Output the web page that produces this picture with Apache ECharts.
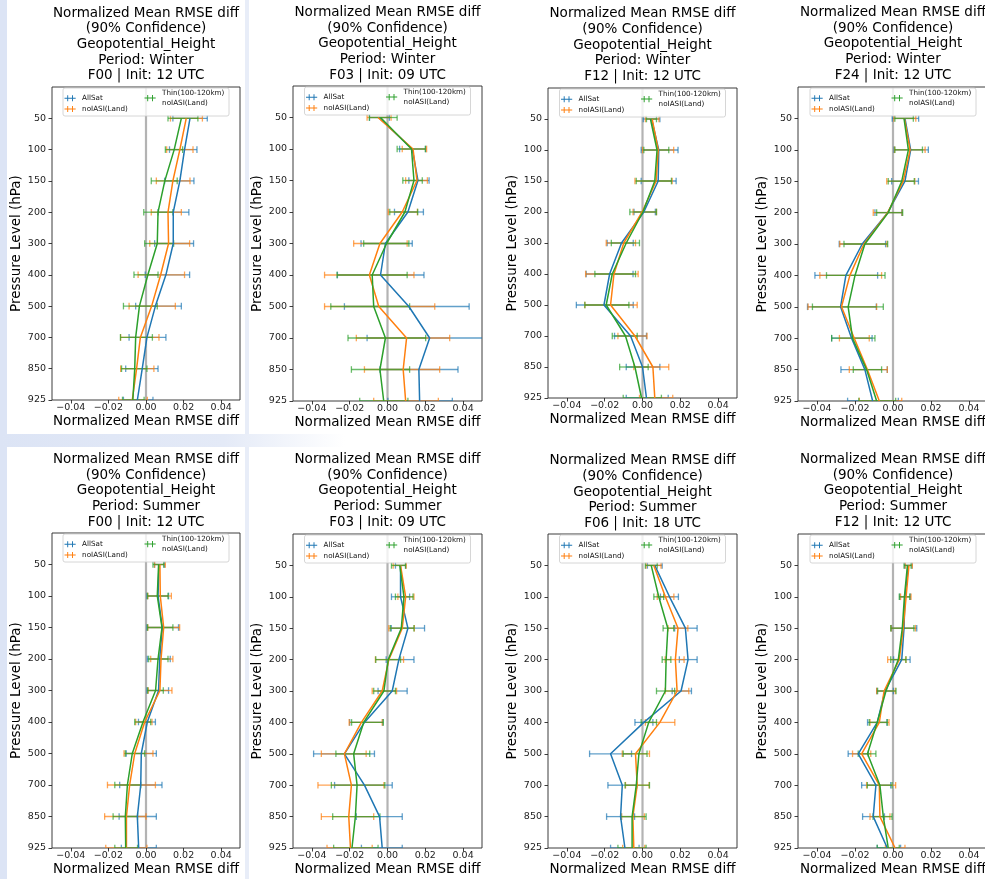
<!DOCTYPE html>
<html><head><meta charset="utf-8">
<script src="https://cdn.jsdelivr.net/npm/echarts@6/dist/echarts.min.js"></script>
<style>html,body{margin:0;padding:0;background:#fff}#c{width:985px;height:879px}</style>
</head><body><div id="c"></div>
<script>
// ---------- data ----------
const levels = ['50','100','150','200','300','400','500','700','850','925'];
const xTicks = [-0.04, -0.02, 0, 0.02, 0.04];
const zeroLine = [0];
const seriesNames = ['AllSat', 'noIASI(Land)', 'Thin(100-120km)\nnoIASI(Land)'];
const titles = [
  'Normalized Mean RMSE diff\n(90% Confidence)\nGeopotential_Height\nPeriod: Winter\nF00 | Init: 12 UTC',
  'Normalized Mean RMSE diff\n(90% Confidence)\nGeopotential_Height\nPeriod: Winter\nF03 | Init: 09 UTC',
  'Normalized Mean RMSE diff\n(90% Confidence)\nGeopotential_Height\nPeriod: Winter\nF12 | Init: 12 UTC',
  'Normalized Mean RMSE diff\n(90% Confidence)\nGeopotential_Height\nPeriod: Winter\nF24 | Init: 12 UTC',
  'Normalized Mean RMSE diff\n(90% Confidence)\nGeopotential_Height\nPeriod: Summer\nF00 | Init: 12 UTC',
  'Normalized Mean RMSE diff\n(90% Confidence)\nGeopotential_Height\nPeriod: Summer\nF03 | Init: 09 UTC',
  'Normalized Mean RMSE diff\n(90% Confidence)\nGeopotential_Height\nPeriod: Summer\nF06 | Init: 18 UTC',
  'Normalized Mean RMSE diff\n(90% Confidence)\nGeopotential_Height\nPeriod: Summer\nF12 | Init: 12 UTC'
];

// Winter F00
const w00_allsat = [0.0234, 0.0205, 0.018, 0.0145, 0.0145, 0.0106, 0.005, 0.0005, -0.002, -0.0046];
const w00_allsat_ci = [[0.0143,0.0326],[0.0125,0.0271],[0.0099,0.0255],[0.0064,0.0228],[0.0046,0.0253],[-0.0004,0.0232],[-0.0055,0.0188],[-0.009,0.0106],[-0.0108,0.0064],[-0.012,0.0037]];
const w00_noiasi = [0.0214, 0.018, 0.0143, 0.0117, 0.012, 0.0078, 0.003, -0.003, -0.005, -0.0073];
const w00_noiasi_ci = [[0.013,0.030],[0.011,0.025],[0.0055,0.0234],[0.0028,0.0188],[0.002,0.0232],[-0.0042,0.0205],[-0.009,0.0156],[-0.0135,0.0069],[-0.0135,0.0042],[-0.0145,0.0007]];
const w00_thin = [0.0188, 0.015, 0.01, 0.0064, 0.006, 0.001, -0.0035, -0.0055, -0.006, -0.007];
const w00_thin_ci = [[0.0117,0.0276],[0.0103,0.0195],[0.0028,0.0166],[-0.0012,0.0143],[-0.0007,0.0147],[-0.0064,0.0064],[-0.012,0.006],[-0.0136,0.0034],[-0.013,0.0005],[-0.0125,-0.001]];

// Winter F03
const w03_allsat = [-0.0046, 0.0131, 0.0161, 0.0108, -0.0011, -0.0037, 0.0113, 0.0223, 0.0166, 0.017];
const w03_allsat_ci = [[-0.0095,0.001],[0.0064,0.0202],[0.0113,0.022],[0.0037,0.019],[-0.014,0.0131],[-0.0265,0.0193],[-0.0228,0.0432],[-0.0108,0.055],[-0.004,0.0373],[0.0002,0.0343]];
const w03_noiasi = [-0.005, 0.0135, 0.0156, 0.0078, -0.004, -0.0096, -0.0046, 0.0101, 0.0083, 0.0096];
const w03_noiasi_ci = [[-0.0108,0.0019],[0.0078,0.0207],[0.0096,0.0211],[0.0004,0.0158],[-0.0179,0.0104],[-0.0333,0.014],[-0.0333,0.025],[-0.0165,0.0329],[-0.0122,0.0276],[-0.0073,0.0269]];
const w03_thin = [-0.0037, 0.0127, 0.014, 0.0092, -0.0005, -0.0081, -0.0073, -0.0011, -0.004, -0.002];
const w03_thin_ci = [[-0.0096,0.0051],[0.0051,0.02],[0.0081,0.0184],[0.0012,0.016],[-0.0126,0.0113],[-0.0267,0.0104],[-0.03,0.0117],[-0.0209,0.0202],[-0.0191,0.0117],[-0.0147,0.0108]];

// Winter F12
const w12_allsat = [0.0048, 0.0086, 0.0083, 0.0007, -0.0111, -0.0174, -0.0204, -0.0063, 0.0, 0.0021];
const w12_allsat_ci = [[0.0004,0.0092],[-0.0007,0.0188],[-0.0007,0.0178],[-0.0045,0.0068],[-0.0187,-0.0049],[-0.0298,-0.005],[-0.035,-0.0049],[-0.0148,0.0021],[-0.0086,0.0092],[-0.0086,0.0136]];
const w12_noiasi = [0.0051, 0.0083, 0.0072, -0.0002, -0.0099, -0.0151, -0.0169, -0.004, 0.0055, 0.0065];
const w12_noiasi_ci = [[0.0015,0.0087],[0.0,0.0165],[-0.004,0.0157],[-0.005,0.0074],[-0.0192,-0.0037],[-0.0301,-0.0023],[-0.0305,-0.0028],[-0.013,0.0024],[-0.0046,0.0139],[-0.0016,0.016]];
const w12_thin = [0.0042, 0.0077, 0.0065, 0.0002, -0.0086, -0.016, -0.0192, -0.009, -0.004, -0.0005];
const w12_thin_ci = [[0.0021,0.0074],[0.0007,0.0139],[-0.0033,0.0153],[-0.0067,0.0074],[-0.0165,-0.0016],[-0.0252,-0.0037],[-0.0305,-0.0072],[-0.016,-0.0028],[-0.0121,0.003],[-0.0102,0.01]];

// Winter F24
const w24_allsat = [0.0063, 0.0093, 0.0063, -0.0028, -0.0162, -0.0248, -0.0276, -0.0218, -0.0148, -0.0107];
const w24_allsat_ci = [[-0.0004,0.0135],[0.0005,0.0186],[-0.0007,0.0134],[-0.0095,0.0046],[-0.0283,-0.0039],[-0.0411,-0.0081],[-0.045,-0.0088],[-0.0323,-0.011],[-0.0274,-0.003],[-0.0239,0.0028]];
const w24_noiasi = [0.006, 0.009, 0.0054, -0.0028, -0.0153, -0.0227, -0.0271, -0.0204, -0.0135, -0.0072];
const w24_noiasi_ci = [[0.0005,0.012],[0.0008,0.0169],[-0.0033,0.0115],[-0.0104,0.0048],[-0.028,-0.0032],[-0.0385,-0.006],[-0.0447,-0.0086],[-0.0282,-0.0125],[-0.023,-0.003],[-0.0177,0.0046]];
const w24_thin = [0.0058, 0.0081, 0.0046, -0.0025, -0.0148, -0.02, -0.0236, -0.0213, -0.0139, -0.0086];
const w24_thin_ci = [[0.001,0.0107],[0.001,0.0155],[-0.0025,0.0112],[-0.0086,0.0051],[-0.0258,-0.0028],[-0.035,-0.0042],[-0.0424,-0.0051],[-0.0323,-0.0095],[-0.0209,-0.006],[-0.018,0.0014]];

// Summer F00
const s00_allsat = [0.0069, 0.0064, 0.0087, 0.0073, 0.0067, 0.0007, -0.0025, -0.0028, -0.0046, -0.0039];
const s00_allsat_ci = [[0.0045,0.0098],[0.0005,0.012],[0.0005,0.0173],[0.0007,0.0129],[0.0005,0.012],[-0.004,0.005],[-0.0105,0.0055],[-0.014,0.0085],[-0.0143,0.0055],[-0.0131,0.0055]];
const s00_noiasi = [0.0074, 0.0076, 0.0094, 0.008, 0.0074, -0.0007, -0.006, -0.0087, -0.0104, -0.0104];
const s00_noiasi_ci = [[0.0046,0.0103],[0.001,0.0135],[0.001,0.0179],[0.0025,0.0143],[0.0012,0.0138],[-0.0055,0.0032],[-0.0117,0.0037],[-0.0205,0.005],[-0.022,0.0],[-0.0214,0.0005]];
const s00_thin = [0.0067, 0.006, 0.0085, 0.0064, 0.0051, -0.0016, -0.0073, -0.0099, -0.011, -0.0108];
const s00_thin_ci = [[0.0037,0.0094],[0.0008,0.0117],[0.0008,0.0143],[0.0014,0.0117],[0.0009,0.0092],[-0.006,0.0025],[-0.011,-0.0007],[-0.0166,-0.0028],[-0.0175,-0.0045],[-0.0166,-0.0045]];

// Summer F03
const s03_allsat = [0.0069, 0.0069, 0.0108, 0.006, 0.0025, -0.0122, -0.0228, -0.0122, -0.0042, -0.0028];
const s03_allsat_ci = [[0.0042,0.0096],[0.0021,0.0117],[0.002,0.0196],[-0.0007,0.014],[-0.005,0.0104],[-0.02,-0.0025],[-0.0391,-0.0069],[-0.028,0.0025],[-0.0165,0.0078],[-0.0138,0.0078]];
const s03_noiasi = [0.0069, 0.0096, 0.0078, 0.0007, -0.0028, -0.0138, -0.0228, -0.0191, -0.0205, -0.0196];
const s03_noiasi_ci = [[0.003,0.0099],[0.0055,0.014],[0.0007,0.0142],[-0.0064,0.0085],[-0.0081,0.0048],[-0.0203,-0.0028],[-0.035,-0.0113],[-0.0368,-0.0019],[-0.035,-0.0073],[-0.032,-0.0081]];
const s03_thin = [0.0065, 0.0087, 0.0073, 0.0004, -0.0019, -0.0126, -0.0179, -0.0161, -0.017, -0.0188];
const s03_thin_ci = [[0.0021,0.0095],[0.0042,0.0135],[0.0015,0.014],[-0.0062,0.0069],[-0.0073,0.0042],[-0.019,-0.0022],[-0.0273,-0.0094],[-0.0297,-0.0014],[-0.029,-0.004],[-0.0285,-0.005]];

// Summer F06
const s06_allsat = [0.0065, 0.0143, 0.0227, 0.0241, 0.0204, 0.0007, -0.0169, -0.0107, -0.0116, -0.0093];
const s06_allsat_ci = [[0.0026,0.0104],[0.0095,0.019],[0.017,0.0289],[0.0195,0.0289],[0.0157,0.0259],[-0.004,0.0055],[-0.028,-0.0058],[-0.0183,-0.003],[-0.019,-0.0042],[-0.0169,-0.0018]];
const s06_noiasi = [0.006, 0.0121, 0.0188, 0.0174, 0.0183, 0.0092, -0.0037, -0.0028, -0.0051, -0.0046];
const s06_noiasi_ci = [[0.0019,0.0098],[0.0078,0.0166],[0.0135,0.024],[0.012,0.022],[0.012,0.0245],[0.0015,0.0171],[-0.0107,0.0037],[-0.009,0.0035],[-0.011,0.001],[-0.0105,0.0012]];
const s06_thin = [0.0046, 0.0086, 0.0134, 0.0125, 0.0121, 0.0033, -0.0019, -0.0033, -0.0055, -0.0055];
const s06_thin_ci = [[0.0015,0.0078],[0.006,0.0112],[0.0109,0.0165],[0.0104,0.015],[0.0074,0.017],[-0.0007,0.0074],[-0.0102,0.0024],[-0.0092,0.0037],[-0.0115,0.0019],[-0.013,0.0019]];

// Summer F12
const s12_allsat = [0.0081, 0.0063, 0.0058, 0.0046, -0.0042, -0.0083, -0.0183, -0.009, -0.0104, -0.003];
const s12_allsat_ci = [[0.0062,0.01],[0.0036,0.0091],[-0.0008,0.0125],[0.0003,0.009],[-0.0086,0.0002],[-0.0134,-0.0032],[-0.0236,-0.013],[-0.0165,-0.0012],[-0.016,-0.0045],[-0.0083,0.004]];
const s12_noiasi = [0.0084, 0.0069, 0.0054, 0.0033, -0.0047, -0.0072, -0.0165, -0.0072, -0.0069, 0.0011];
const s12_noiasi_ci = [[0.0065,0.0102],[0.004,0.0095],[-0.001,0.0118],[-0.0028,0.0068],[-0.0086,0.0012],[-0.0121,-0.0021],[-0.0213,-0.0117],[-0.0139,0.0014],[-0.0121,-0.0016],[-0.004,0.0063]];
const s12_thin = [0.0076, 0.006, 0.0049, 0.0028, -0.0037, -0.0083, -0.0134, -0.0069, -0.0051, -0.0025];
const s12_thin_ci = [[0.0058,0.0095],[0.0033,0.0088],[-0.0012,0.011],[-0.0012,0.0068],[-0.0081,0.0016],[-0.0125,-0.003],[-0.0183,-0.009],[-0.0135,-0.0005],[-0.0105,-0.0005],[-0.0083,0.0033]];

// ---------- layout / style ----------
const panels = [
  [[w00_allsat, w00_allsat_ci], [w00_noiasi, w00_noiasi_ci], [w00_thin, w00_thin_ci]],
  [[w03_allsat, w03_allsat_ci], [w03_noiasi, w03_noiasi_ci], [w03_thin, w03_thin_ci]],
  [[w12_allsat, w12_allsat_ci], [w12_noiasi, w12_noiasi_ci], [w12_thin, w12_thin_ci]],
  [[w24_allsat, w24_allsat_ci], [w24_noiasi, w24_noiasi_ci], [w24_thin, w24_thin_ci]],
  [[s00_allsat, s00_allsat_ci], [s00_noiasi, s00_noiasi_ci], [s00_thin, s00_thin_ci]],
  [[s03_allsat, s03_allsat_ci], [s03_noiasi, s03_noiasi_ci], [s03_thin, s03_thin_ci]],
  [[s06_allsat, s06_allsat_ci], [s06_noiasi, s06_noiasi_ci], [s06_thin, s06_thin_ci]],
  [[s12_allsat, s12_allsat_ci], [s12_noiasi, s12_noiasi_ci], [s12_thin, s12_thin_ci]]
];
const boxes = [[52,87,188,313],[293,86,189,315],[548,88,189,310],[798,87,190,314],
               [52,533,188,315],[293,534,189,314],[548,534,189,314],[798,534,190,314]];
const titleTops = [5.2, 4.5, 6, 4.5, 451.5, 451.5, 452.8, 451.5];
const colors = ['#1f77b4', '#ff7f0e', '#2ca02c'];
const FONT = 'DejaVu Sans';
const nLev = levels.length;
const yTickVals = levels.map((_, i) => i);
// errorbar-style legend handle: horizontal line with two vertical caps
const legendIcon = 'path://M0,4.35H14V5.65H0Z M3.4,1.2H4.6V8.8H3.4Z M9.4,1.2H10.6V8.8H9.4Z M0,0H0.01V10H0Z';

function fmtX(v) {
  const r = Math.round(v * 100);
  if (r % 2 !== 0) return '';
  const s = Math.abs(v).toFixed(2);
  return v < -1e-9 ? '\u2212' + s : s;
}

const option = {
  animation: false,
  backgroundColor: '#ffffff',
  textStyle: { fontFamily: FONT },
  title: [], grid: [], xAxis: [], yAxis: [], legend: [], series: [],
  graphic: [
    { type: 'rect', z: 0, silent: true, shape: { x: 0, y: 0, width: 7, height: 879 }, style: { fill: '#dce4f5' } },
    { type: 'rect', z: 0, silent: true, shape: { x: 245, y: 0, width: 4, height: 879 }, style: { fill: '#e8edf8' } },
    { type: 'rect', z: 0, silent: true, shape: { x: 0, y: 434, width: 345, height: 13 },
      style: { fill: { type: 'linear', x: 0, y: 0, x2: 1, y2: 0,
        colorStops: [{ offset: 0, color: '#dce4f5' }, { offset: 0.65, color: '#e4eaf7' }, { offset: 1, color: '#ffffff' }] } } }
  ]
};

const lineSeries = [], barSeries = [], zeroSeries = [];

panels.forEach((panel, i) => {
  const [left, top, width, height] = boxes[i];
  const cx = left + width / 2;
  option.title.push({
    text: titles[i], left: cx, top: titleTops[i], textAlign: 'center', padding: 0,
    textStyle: { fontSize: 13.5, lineHeight: 15.7, fontWeight: 'normal', color: '#000', fontFamily: FONT }
  });
  option.grid.push({
    left: left, top: top, width: width, height: height, show: true,
    backgroundColor: '#fff', borderColor: '#262626', borderWidth: 0.9,
    containLabel: false, outerBoundsMode: 'none'
  });
  option.xAxis.push({
    type: 'value', gridIndex: i, min: -0.05, max: 0.05, interval: 0.01,
    splitLine: { show: false },
    axisLine: { show: false, onZero: false },
    axisTick: { show: true, length: 3.5, customValues: xTicks, lineStyle: { color: '#262626', width: 0.9 } },
    axisLabel: { customValues: xTicks, formatter: fmtX, fontSize: 9.5, margin: 3, color: '#222', fontFamily: FONT },
    name: 'Normalized Mean RMSE diff', nameLocation: 'middle', nameGap: 14,
    nameTextStyle: { fontSize: 13.5, color: '#000', fontFamily: FONT }
  });
  option.yAxis.push({
    type: 'value', gridIndex: i, min: 0, max: nLev, interval: 1,
    splitLine: { show: false },
    axisLine: { show: false, onZero: false },
    axisTick: { show: true, length: 3.5, customValues: yTickVals, lineStyle: { color: '#262626', width: 0.9 } },
    axisLabel: {
      customValues: yTickVals, fontSize: 9.5, margin: 6, color: '#222', fontFamily: FONT,
      formatter: v => { const k = Math.round(v); return k < nLev ? levels[nLev - 1 - k] : ''; }
    },
    name: 'Pressure Level (hPa)', nameLocation: 'middle', nameGap: 26,
    nameTextStyle: { fontSize: 13.5, color: '#000', fontFamily: FONT }
  });

  // legend frame
  const bx = cx - 83;
  option.graphic.push({
    type: 'rect', z: 50, silent: true,
    shape: { x: bx, y: top + 1, width: 166, height: 28, r: 2 },
    style: { fill: 'rgba(255,255,255,0.8)', stroke: '#cccccc', lineWidth: 0.8 }
  });
  const legText = { fontSize: 7.2, lineHeight: 9, color: '#111', fontFamily: FONT };
  option.legend.push({
    z: 60, orient: 'vertical', left: bx + 1.5, top: top + 6.8, padding: 0,
    itemWidth: 14, itemHeight: 8, itemGap: 1.7, textStyle: legText,
    data: [{ name: seriesNames[0], icon: legendIcon }, { name: seriesNames[1], icon: legendIcon }]
  });
  option.legend.push({
    z: 60, orient: 'vertical', left: bx + 81.5, top: top + 1.8, padding: 0,
    itemWidth: 14, itemHeight: 8, textStyle: Object.assign({}, legText, { lineHeight: 9.3 }),
    data: [{ name: seriesNames[2], icon: legendIcon }]
  });

  zeroSeries.push({
    type: 'custom', xAxisIndex: i, yAxisIndex: i, silent: true, z: 1,
    data: zeroLine.map(v => [v, 0]),
    renderItem: (params, api) => {
      const p1 = api.coord([api.value(0), nLev]);
      const p2 = api.coord([api.value(0), 0]);
      return { type: 'line', shape: { x1: p1[0], y1: p1[1], x2: p2[0], y2: p2[1] },
               style: { stroke: '#9a9a9a', lineWidth: 2.2, opacity: 0.75 } };
    }
  });

  panel.forEach(([mean, ci], s) => {
    const color = colors[s];
    lineSeries.push({
      type: 'line', name: seriesNames[s], xAxisIndex: i, yAxisIndex: i, z: 3,
      data: mean.map((v, k) => [v, nLev - 1 - k]),
      showSymbol: false, symbol: 'none', clip: true, silent: true,
      lineStyle: { color: color, width: 1.5 }, itemStyle: { color: color }
    });
    barSeries.push({
      type: 'custom', name: seriesNames[s], xAxisIndex: i, yAxisIndex: i, z: 2,
      clip: true, silent: true,
      itemStyle: { color: color },
      encode: { x: [0, 1], y: 2 },
      data: ci.map((c, k) => [c[0], c[1], nLev - 1 - k]),
      renderItem: (params, api) => {
        const y = api.value(2);
        const a = api.coord([api.value(0), y]);
        const b = api.coord([api.value(1), y]);
        const h = 3.3;
        const st = { stroke: color, lineWidth: 1.3, opacity: 0.7 };
        return { type: 'group', children: [
          { type: 'line', shape: { x1: a[0], y1: a[1], x2: b[0], y2: b[1] }, style: st },
          { type: 'line', shape: { x1: a[0], y1: a[1] - h, x2: a[0], y2: a[1] + h }, style: st },
          { type: 'line', shape: { x1: b[0], y1: b[1] - h, x2: b[0], y2: b[1] + h }, style: st }
        ] };
      }
    });
  });
});

option.series = lineSeries.concat(barSeries, zeroSeries);

const chart = echarts.init(document.getElementById('c'), null, { renderer: 'canvas' });
chart.setOption(option);
</script>
</body></html>
